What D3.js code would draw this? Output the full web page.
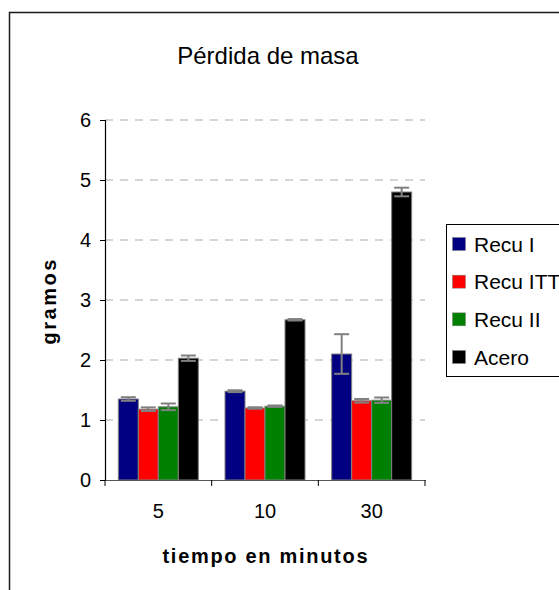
<!DOCTYPE html>
<html>
<head>
<meta charset="utf-8">
<script src="https://cdn.jsdelivr.net/npm/d3@7/dist/d3.min.js"></script>
<style>
  html, body { margin: 0; padding: 0; background: #fff; }
  svg { display: block; font-family: "Liberation Sans", Arial, sans-serif; }
</style>
</head>
<body>
<svg id="chart" width="559" height="590"></svg>
<script>
// Mass loss (grams) per exposure time
const categories = ["5", "10", "30"];
const seriesNames = ["Recu I", "Recu ITT", "Recu II", "Acero"];
const seriesColors = ["#000080", "#ff0000", "#008000", "#000000"];
const recuI    = [1.35, 1.48, 2.10];
const recuITT  = [1.18, 1.20, 1.32];
const recuII   = [1.22, 1.23, 1.33];
const acero    = [2.03, 2.67, 4.80];
const errRecuI   = [0.03, 0.015, 0.33];
const errRecuITT = [0.03, 0.012, 0.03];
const errRecuII  = [0.055, 0.012, 0.045];
const errAcero   = [0.045, 0.012, 0.072];
const yTicks = [0, 1, 2, 3, 4, 5, 6];

const values = [recuI, recuITT, recuII, acero];
const errors = [errRecuI, errRecuITT, errRecuII, errAcero];

const svg = d3.select("#chart");
const plot = { left: 105, right: 425, top: 120, bottom: 480 };

// Chart frame
svg.append("rect")
  .attr("x", 9.5).attr("y", 12.5)
  .attr("width", 620).attr("height", 620)
  .attr("fill", "#fff").attr("stroke", "#1a1a1a").attr("stroke-width", 1.5);

const y = d3.scaleLinear().domain([0, 6]).range([plot.bottom, plot.top]);
const x0 = d3.scaleBand().domain(categories).range([plot.left, plot.right]);
const x1 = d3.scaleBand().domain(seriesNames)
  .range([x0.bandwidth() * 0.125, x0.bandwidth() * 0.875]);

// Gridlines
svg.append("g").selectAll("line")
  .data(yTicks.filter(d => d > 0))
  .join("line")
  .attr("x1", plot.left).attr("x2", plot.right)
  .attr("y1", d => y(d)).attr("y2", d => y(d))
  .attr("stroke", "#c8c8c8").attr("stroke-width", 1.5)
  .attr("stroke-dasharray", "8,7");

// Bars
const groups = svg.append("g").selectAll("g")
  .data(categories)
  .join("g")
  .attr("transform", d => `translate(${x0(d)},0)`);

groups.selectAll("rect")
  .data((c, ci) => seriesNames.map((s, si) => ({ s, si, v: values[si][ci], e: errors[si][ci] })))
  .join("rect")
  .attr("x", d => x1(d.s))
  .attr("y", d => y(d.v))
  .attr("width", x1.bandwidth())
  .attr("height", d => y(0) - y(d.v))
  .attr("fill", d => seriesColors[d.si])
  .attr("stroke", "#808080").attr("stroke-width", 1);

// Error bars
const capW = 15;
const eb = groups.selectAll("g.err")
  .data((c, ci) => seriesNames.map((s, si) => ({ s, v: values[si][ci], e: errors[si][ci] })))
  .join("g").attr("class", "err")
  .attr("stroke", "#808080").attr("stroke-width", 2);
eb.append("line")
  .attr("x1", d => x1(d.s) + x1.bandwidth() / 2)
  .attr("x2", d => x1(d.s) + x1.bandwidth() / 2)
  .attr("y1", d => y(d.v + d.e)).attr("y2", d => y(d.v - d.e));
eb.append("line")
  .attr("x1", d => x1(d.s) + x1.bandwidth() / 2 - capW / 2)
  .attr("x2", d => x1(d.s) + x1.bandwidth() / 2 + capW / 2)
  .attr("y1", d => y(d.v + d.e)).attr("y2", d => y(d.v + d.e));
eb.append("line")
  .attr("x1", d => x1(d.s) + x1.bandwidth() / 2 - capW / 2)
  .attr("x2", d => x1(d.s) + x1.bandwidth() / 2 + capW / 2)
  .attr("y1", d => y(d.v - d.e)).attr("y2", d => y(d.v - d.e));

// Y axis
const yAxis = svg.append("g")
  .attr("transform", `translate(${plot.left},0)`)
  .call(d3.axisLeft(y).tickValues(yTicks).tickSize(5).tickPadding(9).tickFormat(d3.format("d")));
yAxis.select(".domain").attr("stroke", "#000").attr("stroke-width", 1.2);
yAxis.selectAll(".tick line").attr("stroke", "#000");
yAxis.selectAll("text").attr("font-size", 20).attr("fill", "#000")
  .attr("font-family", "'Liberation Sans', Arial, sans-serif");

// X axis: labels centred in each category, ticks between categories
const xAxis = svg.append("g")
  .attr("transform", `translate(0,${plot.bottom})`)
  .call(d3.axisBottom(x0).tickSize(0).tickPadding(24));
xAxis.select(".domain").attr("stroke", "#555").attr("stroke-width", 1.2);
xAxis.selectAll("text").attr("font-size", 20).attr("fill", "#000")
  .attr("font-family", "'Liberation Sans', Arial, sans-serif");
xAxis.selectAll("line.sep")
  .data(d3.range(categories.length + 1))
  .join("line").attr("class", "sep")
  .attr("x1", i => plot.left + i * x0.step())
  .attr("x2", i => plot.left + i * x0.step())
  .attr("y1", 0).attr("y2", 6)
  .attr("stroke", "#000");

// Title
svg.append("text")
  .attr("x", 268).attr("y", 64)
  .attr("text-anchor", "middle")
  .attr("font-size", 24)
  .text("Pérdida de masa");

// Axis titles
svg.append("text")
  .attr("x", (plot.left + plot.right) / 2).attr("y", 563)
  .attr("text-anchor", "middle")
  .attr("font-size", 20).attr("font-weight", "bold")
  .attr("textLength", 205).attr("lengthAdjust", "spacing")
  .text("tiempo en minutos");

svg.append("text")
  .attr("transform", "translate(56,302) rotate(-90)")
  .attr("text-anchor", "middle")
  .attr("font-size", 20).attr("font-weight", "bold")
  .attr("textLength", 85).attr("lengthAdjust", "spacing")
  .text("gramos");

// Legend
const legend = svg.append("g");
legend.append("rect")
  .attr("x", 446.5).attr("y", 224.5)
  .attr("width", 140).attr("height", 152)
  .attr("fill", "#fff").attr("stroke", "#000").attr("stroke-width", 1);
const ly = d3.scalePoint().domain(seriesNames).range([244, 357]);
const items = legend.selectAll("g.item")
  .data(seriesNames)
  .join("g").attr("class", "item")
  .attr("transform", d => `translate(0,${ly(d)})`);
items.append("rect")
  .attr("x", 452.5).attr("y", -6.5)
  .attr("width", 13).attr("height", 13)
  .attr("fill", (d, i) => seriesColors[i])
  .attr("stroke", "#808080").attr("stroke-width", 0.5);
items.append("text")
  .attr("x", 474).attr("dy", "0.36em")
  .attr("font-size", 21)
  .text(d => d);
</script>
</body>
</html>
